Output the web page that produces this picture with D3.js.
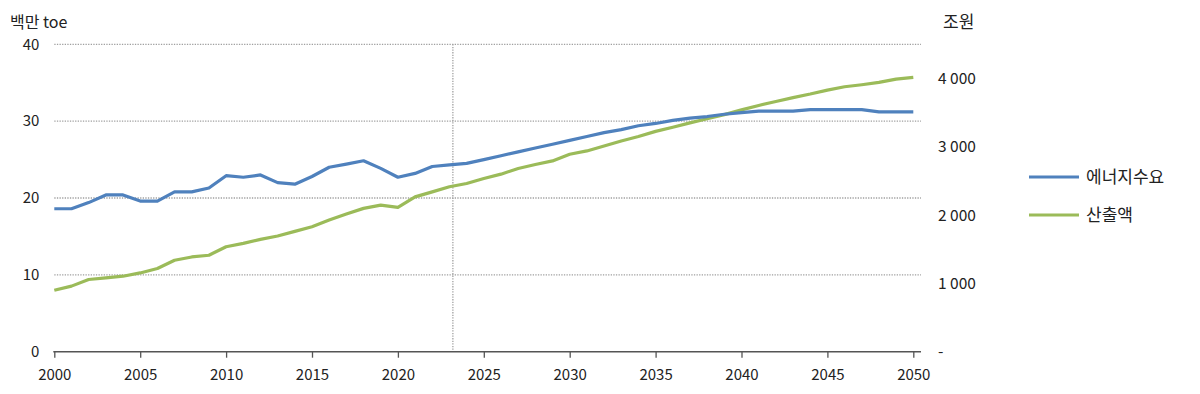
<!DOCTYPE html>
<html>
<head>
<meta charset="utf-8">
<script src="https://cdn.jsdelivr.net/npm/d3@7"></script>
<style>
  body { margin: 0; background: #fff; }
  text { font-family: "Noto Sans CJK KR", "Open Sans", sans-serif; fill: #222; }
</style>
</head>
<body>
<div id="chart"></div>
<script>
// years on the x axis
var years = d3.range(2000, 2051);

// 에너지수요 (백만 toe, left axis)
var energy = [18.6, 18.6, 19.4, 20.4, 20.4, 19.6, 19.6, 20.8, 20.8, 21.3,
              22.9, 22.7, 23.0, 22.0, 21.8, 22.8, 24.0, 24.4, 24.85, 23.85,
              22.7, 23.2, 24.1, 24.3, 24.5, 25.0, 25.5, 26.0, 26.5, 27.0,
              27.5, 28.0, 28.5, 28.9, 29.4, 29.7, 30.1, 30.4, 30.6, 30.9,
              31.1, 31.3, 31.3, 31.3, 31.5, 31.5, 31.5, 31.5, 31.2, 31.2,
              31.2];

// 산출액 (조원, right axis)
var output = [900, 960, 1057, 1081, 1105, 1153, 1218, 1339, 1387, 1412,
              1537, 1586, 1645, 1693, 1762, 1830, 1927, 2015, 2098, 2146,
              2112, 2267, 2340, 2414, 2463, 2536, 2599, 2682, 2740, 2793,
              2890, 2939, 3010, 3085, 3150, 3225, 3285, 3350, 3410, 3470,
              3540, 3605, 3662, 3720, 3772, 3830, 3879, 3908, 3942, 3991,
              4015];

var xTicks = [2000, 2005, 2010, 2015, 2020, 2025, 2030, 2035, 2040, 2045, 2050];
var leftTicks = [0, 10, 20, 30, 40];
var rightTicks = [0, 1000, 2000, 3000, 4000];
var markYear = 2023.2;   // projection start line
var seriesNames = ["에너지수요", "산출액"];

var width = 1200, height = 394;
var colors = ["#4f81bd", "#9bbb59"];

var svg = d3.select("#chart").append("svg")
    .attr("width", width)
    .attr("height", height);

// scales
var x = d3.scaleLinear().domain([2000, 2050]).range([54.3, 913.3]);
var yL = d3.scaleLinear().domain([0, 40]).range([351.7, 44.3]);
var yR = d3.scaleLinear().domain([0, 4500]).range([351.7, 44.3]);
var plotRight = 921;

// gridlines (dotted)
svg.append("g")
    .selectAll("line")
    .data(leftTicks.filter(function(d) { return d > 0; }))
    .enter().append("line")
    .attr("x1", x(2000))
    .attr("x2", plotRight)
    .attr("y1", function(d) { return yL(d); })
    .attr("y2", function(d) { return yL(d); })
    .style("stroke", "#a0a0a0")
    .style("stroke-width", 1.3)
    .style("stroke-dasharray", "1.3,1.3");

// vertical marker line
svg.append("line")
    .attr("x1", x(markYear)).attr("x2", x(markYear))
    .attr("y1", yL(40)).attr("y2", yL(0))
    .style("stroke", "#a0a0a0")
    .style("stroke-width", 1.3)
    .style("stroke-dasharray", "1.3,1.3");

// x axis
var xAxis = d3.axisBottom(x)
    .tickValues(xTicks)
    .tickFormat(d3.format("d"))
    .tickSize(6)
    .tickSizeOuter(0)
    .tickPadding(12);
var gx = svg.append("g")
    .attr("transform", "translate(0," + yL(0) + ")")
    .call(xAxis);
gx.select(".domain").remove();
gx.selectAll(".tick line").style("stroke", "#555").style("stroke-width", 1.3);
gx.selectAll(".tick text").style("font-size", "15px").style("fill", "#222");
gx.append("line")
    .attr("x1", x(2000) - 1)
    .attr("x2", plotRight)
    .style("stroke", "#555")
    .style("stroke-width", 1.5);

// left axis
var gl = svg.append("g")
    .attr("transform", "translate(" + x(2000) + ",0)")
    .call(d3.axisLeft(yL).tickValues(leftTicks).tickSize(0).tickPadding(15));
gl.select(".domain").remove();
gl.selectAll(".tick text").style("font-size", "15px").style("fill", "#222");

// right axis
var gr = svg.append("g")
    .attr("transform", "translate(" + plotRight + ",0)")
    .call(d3.axisRight(yR).tickValues(rightTicks).tickSize(0).tickPadding(17)
        .tickFormat(function(d) { return d === 0 ? "-" : d3.format(",")(d).replace(",", " "); }));
gr.select(".domain").remove();
gr.selectAll(".tick text").style("font-size", "15.5px").style("fill", "#222");

// unit labels
svg.append("text")
    .attr("x", 10).attr("y", 28)
    .style("font-size", "16px")
    .text("백만 toe");
svg.append("text")
    .attr("x", 943).attr("y", 28)
    .style("font-size", "17px")
    .text("조원");

// lines
var lineL = d3.line()
    .x(function(d, i) { return x(years[i]); })
    .y(function(d) { return yL(d); });
var lineR = d3.line()
    .x(function(d, i) { return x(years[i]); })
    .y(function(d) { return yR(d); });

svg.append("path")
    .datum(output)
    .attr("d", lineR)
    .style("fill", "none")
    .style("stroke", colors[1])
    .style("stroke-width", 3.2)
    .style("stroke-linejoin", "round");

svg.append("path")
    .datum(energy)
    .attr("d", lineL)
    .style("fill", "none")
    .style("stroke", colors[0])
    .style("stroke-width", 3.2)
    .style("stroke-linejoin", "round");

// legend
var legend = svg.selectAll(".legend")
    .data(seriesNames)
    .enter().append("g")
    .attr("class", "legend")
    .attr("transform", function(d, i) { return "translate(1029," + (177 + i * 38) + ")"; });

legend.append("line")
    .attr("x1", 0).attr("x2", 50)
    .style("stroke", function(d, i) { return colors[i]; })
    .style("stroke-width", 3.2);

legend.append("text")
    .attr("x", 57)
    .attr("dy", "0.35em")
    .style("font-size", "17px")
    .text(function(d) { return d; });
</script>
</body>
</html>
